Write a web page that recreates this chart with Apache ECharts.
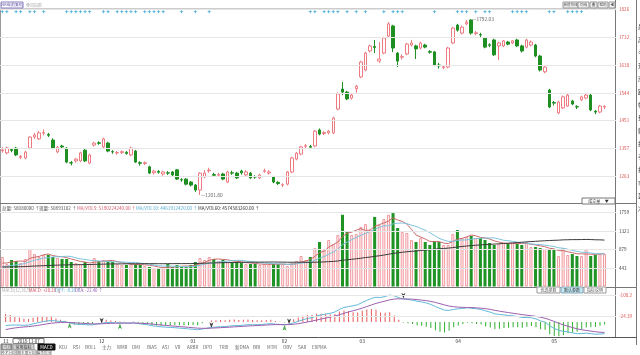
<!DOCTYPE html>
<html><head><meta charset="utf-8">
<script src="https://cdn.jsdelivr.net/npm/echarts@6/dist/echarts.min.js"></script>
<style>html,body{margin:0;padding:0;background:#fff;}#c{width:640px;height:355px;}</style>
</head><body><div id="c"></div>
<script>
// ---------------- data ----------------
const monthLabels = ['11','12','01','02','03','04','05'];
const monthStartIdx = [0,21,41,61,78,99,120];

const opens = [1350,1343,1354,1359,1328,1326,1359,1396,1390,1409,1405,1386,1346,1366,1359,1310,1316,1316,1352,1309,
 1369,1377,1363,1376,1347,1343,1344,1345,1336,1349,1310,1307,1296,1276,1281,1272,1276,1279,1286,1253,
 1255,1245,1235,1218,1262,1283,1270,1268,1272,1245,1276,1275,1282,1269,1275,1263,1259,1281,1275,1262,
 1244,1235,1238,1279,1322,1339,1365,1364,1366,1420,1408,1410,1410,1490,1557,1547,1527,1558,1598,1621,
 1685,1700,1651,1678,1735,1769,1678,1664,1675,1705,1702,1695,1705,1683,1682,1638,1629,1631,1712,1772,
 1745,1776,1789,1744,1740,1728,1706,1722,1702,1702,1715,1712,1722,1702,1698,1705,1705,1668,1615,1554,
 1512,1477,1494,1500,1517,1498,1521,1527,1537,1483,1480,1497];
const closes = [1353,1359,1351,1336,1331,1346,1396,1403,1410,1411,1402,1359,1362,1363,1312,1309,1322,1343,1316,1336,
 1376,1375,1390,1349,1346,1344,1347,1341,1359,1312,1308,1310,1275,1282,1278,1279,1275,1269,1255,1252,
 1238,1235,1218,1275,1275,1285,1268,1270,1255,1279,1275,1259,1276,1279,1259,1262,1269,1283,1279,1245,
 1240,1236,1279,1326,1342,1363,1367,1362,1416,1406,1411,1416,1460,1541,1547,1524,1537,1567,1648,1678,
 1702,1697,1658,1729,1776,1695,1651,1666,1708,1712,1692,1712,1698,1681,1638,1635,1632,1695,1762,1755,
 1765,1782,1745,1746,1739,1698,1704,1672,1712,1719,1708,1719,1702,1685,1722,1715,1668,1621,1631,1497,
 1510,1514,1531,1537,1507,1497,1531,1537,1487,1480,1500,1499];
const lows = [1344,1338,1345,1332,1322,1322,1355,1390,1386,1402,1396,1355,1342,1358,1308,1301,1310,1312,1312,1305,
 1364,1370,1358,1345,1340,1337,1339,1337,1332,1309,1300,1302,1272,1270,1273,1266,1269,1265,1252,1246,
 1234,1230,1212,1201.8,1258,1276,1263,1262,1251,1241,1269,1255,1270,1264,1255,1256,1255,1276,1270,1241,
 1235,1228,1234,1275,1318,1335,1358,1356,1362,1402,1403,1405,1406,1486,1537,1520,1522,1545,1594,1617,
 1680,1678,1645,1674,1730,1681,1631,1656,1671,1700,1658,1690,1694,1676,1634,1626,1624,1627,1708,1750,
 1741,1772,1740,1738,1732,1694,1698,1668,1655,1698,1704,1708,1698,1680,1694,1700,1664,1616,1610,1493,
 1502,1473,1490,1497,1503,1490,1517,1523,1483,1473,1476,1490];
const highs = [1362,1364,1358,1363,1336,1350,1399,1410,1416,1422,1410,1392,1366,1370,1362,1316,1326,1347,1356,1340,
 1380,1382,1394,1380,1352,1349,1351,1349,1364,1353,1315,1314,1300,1286,1285,1283,1282,1282,1289,1258,
 1258,1248,1238,1278,1285,1293,1276,1276,1276,1283,1283,1279,1286,1285,1279,1268,1273,1290,1285,1266,
 1248,1241,1282,1330,1346,1367,1373,1370,1420,1425,1416,1420,1464,1546,1581,1551,1541,1571,1652,1682,
 1706,1722,1715,1733,1782,1773,1681,1674,1712,1722,1706,1716,1709,1688,1685,1645,1637,1699,1766,1776,
 1770,1789,1792.03,1752,1746,1732,1711,1726,1716,1722,1719,1722,1726,1706,1726,1720,1709,1672,1634,1558,
 1517,1518,1535,1541,1521,1503,1535,1541,1541,1487,1504,1503];
const volumes = [700,533,628,604,557,652,889,770,700,747,747,700,675,652,652,581,557,533,581,533,
 675,604,628,604,581,533,510,510,533,533,510,486,462,438,415,438,533,462,510,462,
 462,510,581,675,628,700,652,604,628,581,581,581,557,533,533,533,510,533,533,533,
 533,533,486,557,604,723,628,700,912,1055,889,1102,1007,1221,1700,1292,1221,1244,1410,1480,
 1339,1650,1458,1600,1700,1740,1386,1292,1268,1102,1055,1149,1055,984,1078,1055,984,984,1244,1339,
 1149,1173,1197,1149,1149,1102,1031,984,1007,1031,1031,1031,1007,984,1055,936,936,912,889,865,
 865,723,912,747,770,723,723,889,723,747,770,770];
const signalIdx = [0,1,3,4,6,7,9,14,15,16,17,18,19,22,23,25,26,27,28,29,31,32,33,34,35,39,42,45,
 67,68,70,71,72,73,75,77,79,83,85,86,87,94,99,100,101,103,105,106,111,112,113,114,119,120,123,124,125,126];
const priceTicks = [1263,1357,1451,1544,1638,1732,1826];
const volTicks = [443,879,1321,1759];
const macdTicks = [24.39,108.2];
const highMark = {idx:102, value:1792.03};
const lowMark = {idx:43, value:1201.80};
const macdStart = {diff:-14, dea:-30};            // levels of the two lines at the left edge
const volMaStart = {ma5:519, ma10:446, ma60:457}; // header values (x10^7) used as prior level
const crossUpIdx = [14,25,61];      // green arrows
const crossDownIdx = [21,45,62,87]; // black arrows
const tabs = ['MACD','KDJ','RSI','BOLL','主力','WMR','DMI','BIAS','ASI','VR','ARBR','DPO','TRIX','新DMA','BBI','MTM','OBV','SAR','EXPMA'];
const sidePanelChars = ['最','高','今','开','涨','跌','幅','量','额','换','手','振','市','盈','净'];

// ---------------- derived (indicators) ----------------
const N = opens.length;
const SLOTS = N + 2;               // two empty slots before the price axis
const cats = Array.from({length:SLOTS}, (_, i) => String(i));
const candle = opens.map((o, i) => [o, closes[i], lows[i], highs[i]]);
const isUp = i => closes[i] >= opens[i];
function ma(arr, n, prior){
  return arr.map((_, i) => { const s = Math.max(0, i-n+1); let t=0; for(let k=s;k<=i;k++) t+=arr[k];
    const missing = n - (i-s+1); return +((t + missing*prior)/n).toFixed(1); });
}
const ma5 = ma(volumes,5,volMaStart.ma5), ma10 = ma(volumes,10,volMaStart.ma10), ma60 = ma(volumes,60,volMaStart.ma60);
let e12 = closes[0], e26 = closes[0] - macdStart.diff, dea = macdStart.dea;
const diffs=[], deas=[], hist=[];
for (let i=0;i<N;i++){
  if (i>0){ e12 = e12 + (closes[i]-e12)*2/13; e26 = e26 + (closes[i]-e26)*2/27; }
  const d = e12 - e26;
  if (i>0) dea = dea + (d-dea)*2/10;
  diffs.push(+d.toFixed(2)); deas.push(+dea.toFixed(2)); hist.push(+(2*(d-dea)).toFixed(2));
}

// ---------------- styles ----------------
const F = 'Noto Sans CJK SC';
const UP = '#ee7a82', DOWN = '#1f8f22';
const chart = echarts.init(document.getElementById('c'), null, {renderer:'canvas'});

function xAx(gi, showLabel){
  return {type:'category', gridIndex:gi, data:cats, boundaryGap:true,
    axisLine:{show:false}, axisTick:{show:false}, splitLine:{show:false},
    axisLabel:{show:showLabel, interval:(idx)=>monthStartIdx.includes(idx), fontSize:4.8, fontFamily:F, color:'#333', margin:2,
      formatter:(v, idx)=>{ const k = monthStartIdx.indexOf(idx); return k>=0 ? monthLabels[k] : ''; }}};
}
function yAx(gi, min, max){
  return {type:'value', gridIndex:gi, min, max, position:'right', axisLine:{show:false}, axisTick:{show:false},
    axisLabel:{show:false}, splitLine:{show:false}};
}
function gridLines(ticks, color, fmt){
  return {silent:true, symbol:'none', animation:false,
    lineStyle:{color:'#e6e6e6', type:'solid', width:1},
    label:{position:'end', distance:3, fontSize:4.6, fontFamily:F, color, formatter:(p)=>fmt(p.value)},
    data: ticks.map(v=>({yAxis:v}))};
}
function txt(x, y, s, color, size){ return {type:'text', x, y, silent:true, style:{text:s, font:(size||4.6)+'px '+F, fill:color, verticalAlign:'middle'}}; }
function box(x, y, w, h, s, fill, stroke, color, size){
  return {type:'group', x, y, children:[
    {type:'rect', shape:{x:0,y:0,width:w,height:h}, style:{fill, stroke, lineWidth:1}},
    {type:'text', x:w/2, y:h/2, style:{text:s, font:(size||4)+'px '+F, fill:color, align:'center', verticalAlign:'middle'}}]};
}

const tabX = [38,59,73,85,102,117,132,147,162,175,187,203,219,235,253,267,283,298,312];
const tabGraphics = tabs.map((t,k)=> k===0
  ? box(tabX[k], 344, 17, 6, t, '#111', '#111', '#fff', 4.5)
  : txt(tabX[k], 347, t, '#666', 4.5));
const sideGraphics = sidePanelChars.map((c,k)=> txt(638, 27 + k*13, c, '#333', 6));

const option = {
  animation:false,
  grid:[
    {left:0, right:24, top:8, height:195},
    {left:0, right:24, top:212.3, height:74.2},
    {left:0, right:24, top:293, height:44}
  ],
  xAxis:[xAx(0,false), xAx(1,false), xAx(2,true)],
  yAxis:[yAx(0,1174.7,1829.3), yAx(1,0,1759), yAx(2,-59.5,115.3)],
  series:[
    {type:'candlestick', xAxisIndex:0, yAxisIndex:0, data:candle, barWidth:'66%',
      itemStyle:{color:'#ffffff', color0:DOWN, borderColor:UP, borderColor0:DOWN, borderWidth:1},
      markLine: gridLines(priceTicks, '#d9534f', v=>String(v))},
    {type:'scatter', xAxisIndex:0, yAxisIndex:0, symbol:'path://M0,-5L1.4,-1.4L5,0L1.4,1.4L0,5L-1.4,1.4L-5,0L-1.4,-1.4Z', symbolSize:4,
      itemStyle:{color:'#2a9fd0'}, data: signalIdx.map(i=>[String(i), 1817])},
    {type:'scatter', xAxisIndex:0, yAxisIndex:0, symbolSize:0,
      data:[[String(highMark.idx), highMark.value],[String(lowMark.idx), lowMark.value]],
      label:{show:true, position:'right', distance:1, fontSize:4.8, fontFamily:F, color:'#333',
        formatter:(p)=>'\u2014'+p.value[1].toFixed(2)}},
    {type:'bar', xAxisIndex:1, yAxisIndex:1, barWidth:'66%',
      data: volumes.map((v,i)=>({value:v, itemStyle: isUp(i) ? {color:'#fff0f0', borderColor:'#f09aa0', borderWidth:1} : {color:'#1f9424'}})),
      markLine: gridLines(volTicks, '#444', v=>String(v))},
    {type:'line', xAxisIndex:1, yAxisIndex:1, data:ma5, showSymbol:false, lineStyle:{color:'#c96a6a', width:1}},
    {type:'line', xAxisIndex:1, yAxisIndex:1, data:ma10, showSymbol:false, lineStyle:{color:'#7cc3dc', width:1}},
    {type:'line', xAxisIndex:1, yAxisIndex:1, data:ma60, showSymbol:false, lineStyle:{color:'#3a3a3a', width:1}},
    {type:'bar', xAxisIndex:2, yAxisIndex:2, barWidth:1,
      data: hist.map(v=>({value:v, itemStyle:{color: v>=0 ? '#e85a5a' : '#30b030'}})),
      markLine: gridLines(macdTicks, '#d9534f', v=>'-'+String(v))},
    {type:'line', xAxisIndex:2, yAxisIndex:2, data:diffs, showSymbol:false, lineStyle:{color:'#62b8d8', width:1}},
    {type:'line', xAxisIndex:2, yAxisIndex:2, data:deas, showSymbol:false, lineStyle:{color:'#9b5fae', width:1}},
    {type:'scatter', xAxisIndex:2, yAxisIndex:2, symbol:'arrow', symbolSize:[3,6],
      data: crossUpIdx.map(i=>({value:[String(i), deas[i]], itemStyle:{color:'#1f8f22'}}))
        .concat(crossDownIdx.map(i=>({value:[String(i), deas[i]], symbolRotate:180, itemStyle:{color:'#111'}})))}
  ],
  graphic:[
    {type:'line', shape:{x1:615.5,y1:0,x2:615.5,y2:337}, style:{stroke:'#777', lineWidth:1}},
    {type:'line', shape:{x1:636.5,y1:0,x2:636.5,y2:345}, style:{stroke:'#777', lineWidth:1}},
    {type:'line', shape:{x1:0.5,y1:8,x2:0.5,y2:337}, style:{stroke:'#999', lineWidth:1}},
    {type:'line', shape:{x1:0,y1:8.5,x2:616,y2:8.5}, style:{stroke:'#ccc', lineWidth:1}},
    {type:'line', shape:{x1:0,y1:203.5,x2:637,y2:203.5}, style:{stroke:'#777', lineWidth:1}},
    {type:'line', shape:{x1:0,y1:287.5,x2:637,y2:287.5}, style:{stroke:'#777', lineWidth:1}},
    {type:'line', shape:{x1:0,y1:337.5,x2:637,y2:337.5}, style:{stroke:'#555', lineWidth:1}},
    box(1, 2, 22, 6, '日K线(前复权)', '#fff', '#8a7fc0', '#5a4ea0', 3.6),
    txt(26, 5, '叠加指数', '#b0b0b0', 4),
    box(563, 2, 15, 6, '新增均线', '#f0f0f0', '#999', '#555', 3.4),
    box(578, 2, 11, 6, '均线', '#f0f0f0', '#999', '#555', 3.6),
    box(590, 2, 7, 6, '叠', '#f0f0f0', '#999', '#555', 3.6),
    box(598, 2, 10, 6, '帮助', '#f0f0f0', '#999', '#555', 3.6),
    box(609, 2, 6, 6, '◀', '#f0f0f0', '#999', '#555', 3.6),
    box(582, 198, 33, 6, '成交量     ▼', '#fff', '#777', '#333', 4),
    txt(2, 208.5, '总量: 58080000 ↑', '#555'),
    txt(39, 208.5, '现量: 50893102 ↑', '#555'),
    txt(77, 208.5, 'MA/VOL5: 5190224240.00 ↑', '#d06070'),
    txt(136, 208.5, 'MA/VOL10: 4461912420.00 ↑', '#5aaed0'),
    txt(198, 208.5, 'MA/VOL60: 4574583260.00 ↑', '#333'),
    txt(2, 290.5, 'MACD(12,26,9)', '#aaa', 4.3),
    txt(29, 290.5, 'MACD: +28.28 ↓', '#d05060', 4.3),
    txt(55, 290.5, 'DIFF: -8.26 ↑', '#5aaed0', 4.3),
    txt(75, 290.5, 'DEA: -22.40 ↑', '#9b5fae', 4.3),
    box(537, 287, 23, 6, '优选参数', '#fff', '#999', '#555'),
    box(561, 287, 22, 6, '默认参数', '#bfe6f2', '#8ab', '#333'),
    box(584, 287, 22, 6, '指标说明', '#fff', '#999', '#555'),
    box(13, 338.5, 31, 5, '2018-11-07', '#fff', '#777', '#333', 4.3),
    box(1, 344, 11, 6, '指标', '#9a9a9a', '#777', '#fff'),
    box(13, 344, 21, 6, '常用指标', '#cfcfcf', '#999', '#333'),
    box(1, 350, 15, 5, '技术分析', '#fff', '#999', '#555', 3.6),
    box(17, 350, 19, 5, '基本面分析', '#fff', '#999', '#555', 3.6),
    box(37, 350, 14, 5, '操作提示', '#fff', '#999', '#555', 3.6)
  ].concat(tabGraphics, sideGraphics)
};
chart.setOption(option);
</script></body></html>
